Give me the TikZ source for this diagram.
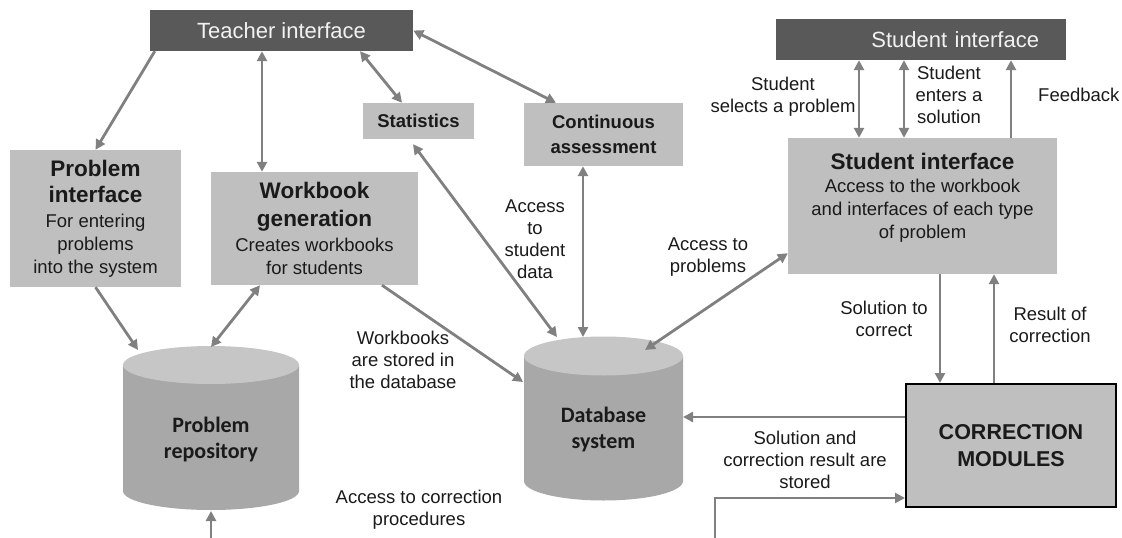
\documentclass[tikz,border=0pt]{standalone}
\usepackage{fontspec}
\setmainfont{Liberation Sans}
\newfontfamily\calfont{Carlito}
\usetikzlibrary{arrows.meta,calc}
\definecolor{arrowgray}{HTML}{808080}
\definecolor{darkfill}{HTML}{595959}
\definecolor{darktext}{HTML}{F2F2F2}
\definecolor{lightfill}{HTML}{BFBFBF}
\definecolor{cylbody}{HTML}{A8A8A8}
\definecolor{cyltop}{HTML}{C6C6C6}
\definecolor{inktext}{HTML}{1A1A1A}
\newcommand\fBody{\fontsize{18.5}{23}\selectfont}
\newcommand\fTitle{\bfseries\fontsize{22.5}{26}\selectfont}
\newcommand\fLbl{\fontsize{18.5}{22}\selectfont}
\newcommand\fBold{\bfseries\fontsize{18.5}{25}\selectfont}
% cylinder: cx, rx, top cy, bottom cy, ry
\newcommand\drawcyl[5]{%
  \fill[cylbody] ({#1-#2},#3) -- ({#1-#2},#4)
    .. controls ({#1-#2},{#4+0.5523*#5}) and ({#1-0.5523*#2},{#4+#5}) .. ({#1},{#4+#5})
    .. controls ({#1+0.5523*#2},{#4+#5}) and ({#1+#2},{#4+0.5523*#5}) .. ({#1+#2},#4)
    -- ({#1+#2},#3) -- cycle;
  \fill[cyltop] (#1,#3) ellipse [x radius=#2, y radius=#5];
}
\begin{document}
\begin{tikzpicture}[x=1pt,y=-1pt,
  darkbox/.style={fill=darkfill, text=darktext, font=\fontsize{22}{26}\selectfont, inner sep=0pt},
  lightbox/.style={fill=lightfill, text=inktext, inner sep=0pt, align=center, font=\fBody},
  corrbox/.style={fill=lightfill, draw=black, line width=2pt, text=inktext, inner sep=0pt, align=center, font=\bfseries\fontsize{21.5}{27}\selectfont},
  cyltext/.style={text=inktext, align=center, inner sep=0pt, font=\calfont\bfseries\fontsize{22}{26}\selectfont},
  lbl/.style={align=center, inner sep=0pt, font=\fLbl, text=inktext},
  tipshape/.tip={Triangle[length=10pt,width=10pt]},
  arr/.style={draw=arrowgray, line width=2.8pt, -tipshape},
  darr/.style={draw=arrowgray, line width=2.8pt, tipshape-tipshape},
]
\useasboundingbox (0,0) rectangle (1122,538);

% cylinders
\drawcyl{211}{88}{365}{491}{19}
\drawcyl{603.5}{79.5}{356}{481}{19.5}
\node[cyltext] (repo) at (211,440) {Problem\\repository};
\node[cyltext] (db) at (603.5,430) {Database\\system};

\coordinate (repoT) at (211,347);
\coordinate (repoA) at (138,350);
\coordinate (repoB) at (211,511);
\coordinate (repoIn) at (211,538);
\coordinate (dbA) at (557,337);
\coordinate (dbB) at (583,337);
\coordinate (dbC) at (645,350);
\coordinate (dbL) at (523,382);
\coordinate (dbR) at (683,417);
\coordinate (corrIn) at (715,538);

% boxes
\node[darkbox, minimum width=263pt, minimum height=41pt] (tch) at (281.5,30.5) {Teacher interface};
\node[darkbox, minimum width=290pt, minimum height=41pt, text width=236pt, align=right, inner xsep=27pt] (sdark) at (921,39.5) {Student interface};

\node[lightbox, minimum width=171pt, minimum height=137pt] (pi) at (95.5,218.5)
  {{\fTitle Problem}\\[3pt]{\fTitle interface}\\[2pt]For entering\\problems\\into the system};
\node[lightbox, minimum width=207pt, minimum height=113pt] (wg) at (314.5,228.5)
  {{\fTitle Workbook}\\[5pt]{\fTitle generation}\\[2pt]Creates workbooks\\for students};
\node[lightbox, minimum width=111pt, minimum height=36pt, font=\fBold] (stat) at (418.5,121) {Statistics};
\node[lightbox, minimum width=159pt, minimum height=63pt, font=\fBold] (cont) at (603.5,134.5) {Continuous\\assessment};
\node[lightbox, minimum width=269pt, minimum height=136pt,
  label={[name=sitext, anchor=north, yshift=-15pt, inner sep=0pt, align=center, font=\fBody, text=inktext]north:{{\fTitle Student interface}\\Access to the workbook\\and interfaces of each type\\of problem}}] (si) at (922.5,206) {};
\node[corrbox, minimum width=210pt, minimum height=123pt] (corr) at (1011,445.5) {CORRECTION\\MODULES};

% labels
\node[lbl] (l1) at (783,96.5) {Student\\selects a problem};
\node[lbl] (l2) at (949,95) {Student\\enters a\\solution};
\node[lbl, anchor=west] (l3) at (1038,95) {Feedback};
\node[lbl] (l4) at (708,257.5) {Access to\\problems};
\node[lbl] (l5) at (535,239) {Access\\to\\student\\data};
\node[lbl] (l6) at (403,360) {Workbooks\\are stored in\\the database};
\node[lbl] (l7) at (419,509.5) {Access to correction\\procedures};
\node[lbl] (l8) at (884,319) {Solution to\\correct};
\node[lbl] (l9) at (1050,324.5) {Result of\\correction};
\node[lbl] (l10) at (805,459.5) {Solution and\\correction result are\\stored};

% connectors
\draw[arr] ([xshift=5pt]tch.south west) -- (pi.north);
\draw[darr] ([xshift=-19.5pt]tch.south) -- ([xshift=-52.5pt]wg.north);
\draw[darr] ([xshift=78.5pt]tch.south) -- ([xshift=-16.5pt]stat.north);
\draw[darr] (tch.east) -- ([xshift=-47.5pt]cont.north);
\draw[darr] ([xshift=-5.5pt,yshift=-5pt]stat.south) -- (dbA);
\draw[darr] ([xshift=-20.5pt]cont.south) -- (dbB);
\draw[arr] ([xshift=67.5pt]wg.south) -- (dbL);
\draw[arr] (pi.south) -- (repoA);
\draw[darr] ([xshift=-54.5pt]wg.south) -- (repoT);
\draw[arr] (repoIn) -- (repoB);
\draw[darr] ([xshift=-62pt]sdark.south) -- ([xshift=-63.5pt]si.north);
\draw[darr] ([xshift=-17pt]sdark.south) -- ([xshift=-18.5pt]si.north);
\draw[arr] ([xshift=88.5pt]si.north) -- ([xshift=90pt]sdark.south);
\draw[darr] ([yshift=21pt]si.south west) -- (dbC);
\draw[arr] ([xshift=17.5pt]si.south) -- ([xshift=-71pt]corr.north);
\draw[arr] ([xshift=-17pt]corr.north) -- ([xshift=71.5pt]si.south);
\draw[arr] ([yshift=28.5pt]corr.west) -- (dbR);
\draw[arr] (corrIn) |- ([yshift=-52.5pt]corr.west);
\end{tikzpicture}
\end{document}
